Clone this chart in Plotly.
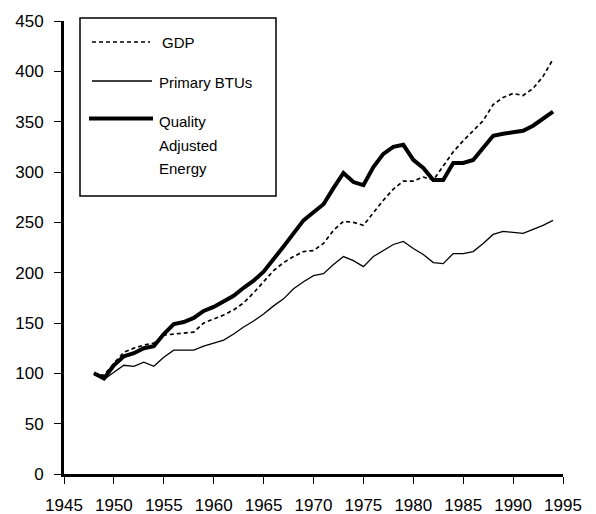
import plotly.graph_objects as go

years = list(range(1948, 1995))

gdp = [100, 98, 110, 121, 125, 128, 130, 138, 139, 140, 141, 150, 154, 158, 163, 170,
       180, 191, 202, 210, 216, 221, 222, 229, 242, 251, 250, 247, 260, 272, 283, 291,
       291, 295, 292, 306, 320, 331, 341, 351, 367, 374, 378, 376, 383, 395, 412]

primary_btus = [100, 94, 101, 108, 107, 111, 107, 116, 123, 123, 123, 127, 130, 133, 139, 146,
                152, 159, 167, 174, 184, 191, 197, 199, 208, 216, 212, 206, 216, 222, 228, 231,
                224, 218, 210, 209, 219, 219, 221, 229, 238, 241, 240, 239, 243, 247, 252]

quality_energy = [100, 95, 108, 117, 120, 125, 127, 139, 149, 151, 155, 162, 166, 171, 177, 185,
                  192, 201, 213, 226, 239, 252, 260, 268, 284, 299, 290, 287, 305, 318, 325, 327,
                  312, 304, 292, 292, 309, 309, 312, 324, 336, 338, 339, 341, 346, 353, 360]

x_ticks = list(range(1945, 1996, 5))
y_ticks = list(range(0, 451, 50))

FONT = "Liberation Sans, Arial, Helvetica, sans-serif"

fig = go.Figure()
fig.add_trace(go.Scatter(x=years, y=gdp, mode="lines", name="GDP",
                         line=dict(color="black", width=1.7, dash="4px,3px")))
fig.add_trace(go.Scatter(x=years, y=primary_btus, mode="lines", name="Primary BTUs",
                         line=dict(color="black", width=1.3)))
fig.add_trace(go.Scatter(x=years, y=quality_energy, mode="lines",
                         name="Quality Adjusted Energy",
                         line=dict(color="black", width=4)))

# the page body has an 8px margin, so the figure is drawn at (8, 8)
OFF = 8
W, H = 596 - OFF, 514 - OFF
L, R, T, B = 56, 33, 13, 40
PW, PH = W - L - R, H - T - B


def px_x(px):
    return (px - OFF - L) / PW


def px_y(py):
    return (H - B - (py - OFF)) / PH


shapes = [
    dict(type="rect", xref="paper", yref="paper",
         x0=px_x(80), x1=px_x(276), y0=px_y(196), y1=px_y(18),
         line=dict(color="black", width=1.5), fillcolor="white", layer="above"),
    dict(type="line", xref="paper", yref="paper",
         x0=px_x(92), x1=px_x(150), y0=px_y(42), y1=px_y(42),
         line=dict(color="black", width=1.7, dash="4px,3px")),
    dict(type="line", xref="paper", yref="paper",
         x0=px_x(92), x1=px_x(152), y0=px_y(81), y1=px_y(81),
         line=dict(color="black", width=1.3)),
    dict(type="line", xref="paper", yref="paper",
         x0=px_x(89), x1=px_x(153), y0=px_y(118.5), y1=px_y(118.5),
         line=dict(color="black", width=4)),
]

legend_texts = [("GDP", 160, 42), ("Primary BTUs", 157, 82),
                ("Quality", 157, 121), ("Adjusted", 157, 145), ("Energy", 157, 168)]
annotations = [dict(text=t, xref="paper", yref="paper", x=px_x(x), y=px_y(y),
                    xanchor="left", yanchor="middle", showarrow=False,
                    font=dict(family=FONT, size=15, color="black"))
               for t, x, y in legend_texts]

axis_common = dict(showgrid=False, zeroline=False, automargin=False)

fig.update_layout(
    width=W, height=H,
    margin=dict(l=L, r=R, t=T, b=B, pad=0, autoexpand=False),
    paper_bgcolor="white", plot_bgcolor="white",
    showlegend=False,
    font=dict(family=FONT, size=17, color="black"),
    xaxis=dict(range=[1945, 1995], tickvals=x_ticks, ticktext=[str(v) for v in x_ticks],
               showline=True, linecolor="black",
               linewidth=2.5, ticks="outside", ticklen=7, tickwidth=1.3,
               tickcolor="black", ticklabelstandoff=7,
               tickfont=dict(family=FONT, size=17, color="black"), **axis_common),
    yaxis=dict(range=[0, 450], tickvals=y_ticks, ticktext=[str(v) for v in y_ticks],
               showline=True, linecolor="black",
               linewidth=3, ticks="outside", ticklen=7, tickwidth=1.3,
               tickcolor="black", ticklabelstandoff=7,
               tickfont=dict(family=FONT, size=17, color="black"), **axis_common),
    xaxis2=dict(range=[1945, 1995], tickvals=x_ticks, overlaying="x", anchor="y",
                side="bottom", showline=False,
                ticks="inside", ticklen=6, tickwidth=1.3, tickcolor="black",
                showticklabels=False, **axis_common),
    yaxis2=dict(range=[0, 450], tickvals=y_ticks, overlaying="y", anchor="x",
                side="left", showline=False,
                ticks="inside", ticklen=6, tickwidth=1.3, tickcolor="black",
                showticklabels=False, **axis_common),
    shapes=shapes,
    annotations=annotations,
)

fig.write_html("out.html")
